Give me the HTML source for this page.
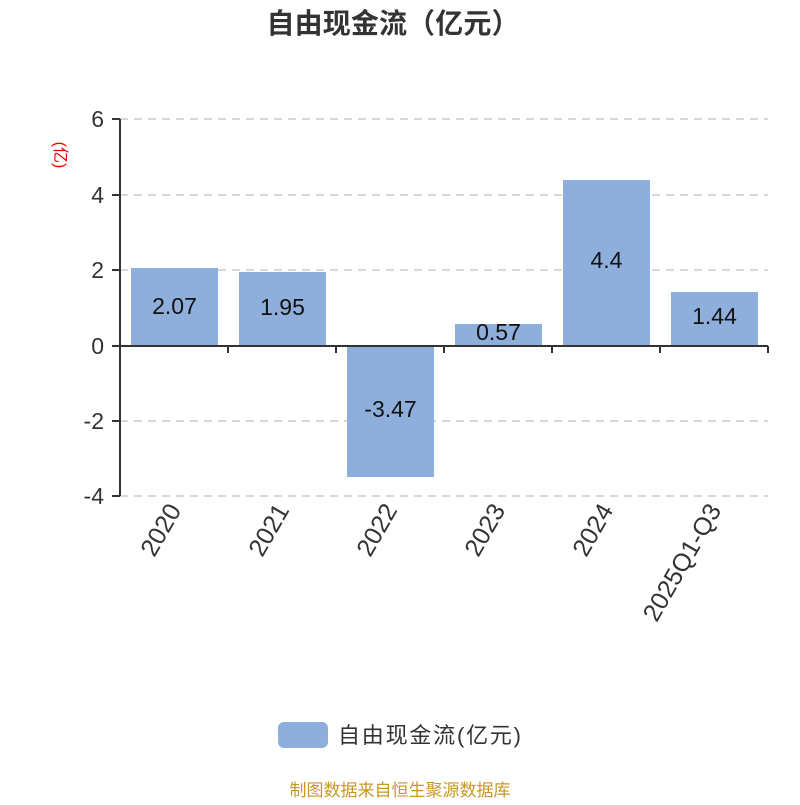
<!DOCTYPE html>
<html><head><meta charset="utf-8"><style>body{margin:0;background:#fff}</style></head><body>
<svg width="800" height="800" xmlns="http://www.w3.org/2000/svg" font-family="'Liberation Sans','Noto Sans CJK SC',sans-serif">
<text x="393" y="33" text-anchor="middle" font-size="28" font-weight="bold" fill="#333" textLength="253">自由现金流（亿元）</text>
<text transform="translate(55,155) rotate(90)" text-anchor="middle" font-size="16" fill="#e00">(亿)</text>
<g stroke="#ccc" stroke-width="1.5" stroke-dasharray="8,6">
<line x1="120" y1="119" x2="768" y2="119"/><line x1="120" y1="195" x2="768" y2="195"/>
<line x1="120" y1="270" x2="768" y2="270"/><line x1="120" y1="421" x2="768" y2="421"/>
<line x1="120" y1="496" x2="768" y2="496"/></g>
<g fill="#8eaedb">
<rect x="131" y="268" width="87" height="78"/><rect x="239" y="272" width="87" height="74"/>
<rect x="347" y="346" width="87" height="131"/><rect x="455" y="324" width="87" height="22"/>
<rect x="563" y="180" width="87" height="166"/><rect x="671" y="292" width="87" height="54"/></g>
<g stroke="#333" stroke-width="2" fill="none">
<line x1="120" y1="119" x2="120" y2="496"/>
<line x1="112" y1="119" x2="120" y2="119"/><line x1="112" y1="195" x2="120" y2="195"/>
<line x1="112" y1="270" x2="120" y2="270"/><line x1="112" y1="346" x2="120" y2="346"/>
<line x1="112" y1="421" x2="120" y2="421"/><line x1="112" y1="496" x2="120" y2="496"/>
<line x1="120" y1="346" x2="768" y2="346"/>
<line x1="228" y1="346" x2="228" y2="353"/><line x1="336" y1="346" x2="336" y2="353"/>
<line x1="444" y1="346" x2="444" y2="353"/><line x1="552" y1="346" x2="552" y2="353"/>
<line x1="660" y1="346" x2="660" y2="353"/><line x1="768" y1="346" x2="768" y2="353"/></g>
<g font-size="23" fill="#333" text-anchor="end">
<text x="104" y="127">6</text><text x="104" y="203">4</text><text x="104" y="278">2</text>
<text x="104" y="354">0</text><text x="104" y="429">-2</text><text x="104" y="504">-4</text></g>
<g font-size="23" fill="#111" text-anchor="middle">
<text x="174.5" y="314">2.07</text><text x="282.5" y="315">1.95</text><text x="390.5" y="417">-3.47</text>
<text x="498.5" y="340">0.57</text><text x="606.5" y="268">4.4</text><text x="714.5" y="324">1.44</text></g>
<g font-size="25" fill="#333" text-anchor="end">
<text transform="translate(182,510) rotate(-60)">2020</text>
<text transform="translate(290,510) rotate(-60)">2021</text>
<text transform="translate(398,510) rotate(-60)">2022</text>
<text transform="translate(506,510) rotate(-60)">2023</text>
<text transform="translate(614,510) rotate(-60)">2024</text>
<text transform="translate(722,510) rotate(-60)">2025Q1-Q3</text></g>
<rect x="278" y="722" width="50" height="26" rx="6" fill="#8eaedb"/>
<text x="338" y="743" font-size="22" fill="#333" textLength="183">自由现金流(亿元)</text>
<text x="400" y="796" text-anchor="middle" font-size="17" fill="#c8962a">制图数据来自恒生聚源数据库</text>
</svg>
</body></html>
